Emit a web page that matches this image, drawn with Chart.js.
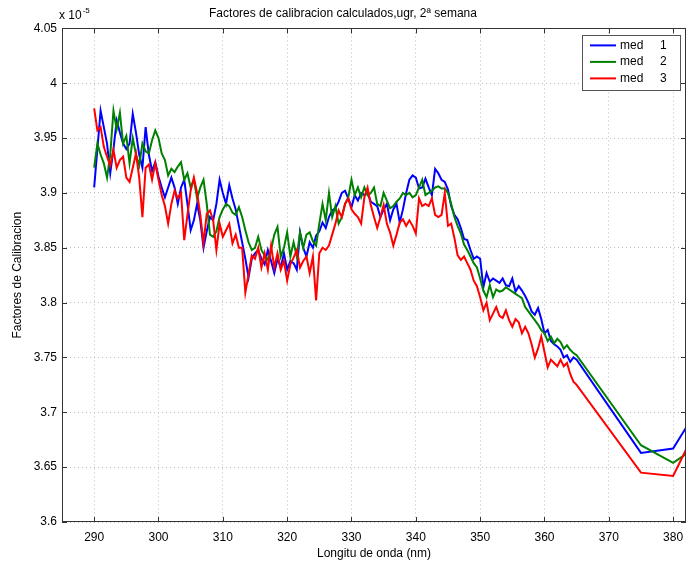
<!DOCTYPE html>
<html><head><meta charset="utf-8">
<script src="https://cdn.jsdelivr.net/npm/chart.js@4/dist/chart.umd.min.js"></script>
<style>html,body{margin:0;padding:0;background:#fff;} canvas{display:block;}</style>
</head><body>
<canvas id="c" width="687" height="567"></canvas>
<script>
const wavelengths = [
290,290.5,291,291.5,292,292.5,293,293.5,294,294.5,
295,295.5,296,296.5,297,297.5,298,298.5,299,299.5,
300,300.5,301,301.5,302,302.5,303,303.5,304,304.5,
305,305.5,306,306.5,307,307.5,308,308.5,309,309.5,
310,310.5,311,311.5,312,312.5,313,313.5,314,314.5,
315,315.5,316,316.5,317,317.5,318,318.5,319,319.5,
320,320.5,321,321.5,322,322.5,323,323.5,324,324.5,
325,325.5,326,326.5,327,327.5,328,328.5,329,329.5,
330,330.5,331,331.5,332,332.5,333,333.5,334,334.5,
335,335.5,336,336.5,337,337.5,338,338.5,339,339.5,
340,340.5,341,341.5,342,342.5,343,343.5,344,344.5,
345,345.5,346,346.5,347,347.5,348,348.5,349,349.5,
350,350.5,351,351.5,352,352.5,353,353.5,354,354.5,
355,355.5,356,356.5,357,357.5,358,358.5,359,359.5,
360,360.5,361,361.5,362,362.5,363,363.5,364,364.5,
365,375,380,382];

const med1 = [
3.905,3.94,3.975,3.96,3.945,3.918,3.94,3.966,3.955,3.945,
3.94,3.945,3.972,3.955,3.935,3.923,3.96,3.935,3.92,3.928,
3.915,3.905,3.896,3.905,3.914,3.905,3.89,3.905,3.912,3.89,
3.866,3.875,3.89,3.875,3.85,3.865,3.878,3.875,3.89,3.912,
3.9,3.89,3.907,3.895,3.885,3.87,3.855,3.84,3.823,3.84,
3.845,3.848,3.84,3.835,3.848,3.838,3.827,3.84,3.832,3.845,
3.83,3.838,3.836,3.83,3.864,3.85,3.842,3.855,3.85,3.861,
3.865,3.873,3.868,3.878,3.884,3.886,3.892,3.9,3.902,3.895,
3.887,3.898,3.893,3.9,3.898,3.9,3.892,3.89,3.888,3.878,
3.885,3.89,3.875,3.885,3.89,3.873,3.885,3.9,3.912,3.916,
3.914,3.904,3.905,3.913,3.905,3.898,3.922,3.918,3.912,3.91,
3.903,3.888,3.88,3.876,3.868,3.858,3.857,3.848,3.84,3.842,
3.84,3.814,3.827,3.819,3.822,3.82,3.818,3.822,3.816,3.815,
3.822,3.81,3.815,3.811,3.806,3.8,3.792,3.789,3.795,3.785,
3.772,3.775,3.765,3.762,3.76,3.757,3.75,3.752,3.746,3.75,
3.748,3.663,3.667,3.686];

const med2 = [
3.923,3.945,3.935,3.927,3.914,3.935,3.975,3.958,3.973,3.945,
3.952,3.927,3.95,3.935,3.925,3.945,3.938,3.936,3.948,3.957,
3.95,3.936,3.93,3.916,3.922,3.919,3.924,3.928,3.912,3.918,
3.905,3.912,3.895,3.905,3.912,3.89,3.862,3.86,3.865,3.878,
3.885,3.89,3.888,3.882,3.88,3.887,3.878,3.866,3.855,3.848,
3.85,3.86,3.848,3.843,3.839,3.848,3.862,3.869,3.842,3.85,
3.864,3.842,3.855,3.842,3.864,3.85,3.862,3.864,3.856,3.852,
3.872,3.89,3.875,3.9,3.878,3.888,3.872,3.878,3.89,3.896,
3.912,3.898,3.905,3.896,3.905,3.898,3.9,3.905,3.89,3.888,
3.9,3.893,3.886,3.888,3.892,3.895,3.9,3.898,3.9,3.896,
3.898,3.905,3.912,3.898,3.9,3.902,3.905,3.906,3.904,3.904,
3.9,3.89,3.878,3.87,3.863,3.853,3.848,3.842,3.836,3.832,
3.822,3.811,3.805,3.816,3.805,3.812,3.81,3.811,3.814,3.812,
3.81,3.808,3.806,3.804,3.796,3.792,3.788,3.784,3.78,3.775,
3.772,3.765,3.769,3.763,3.767,3.764,3.758,3.761,3.757,3.754,
3.752,3.67,3.654,3.662];

const med3 = [
3.977,3.957,3.96,3.942,3.933,3.925,3.939,3.923,3.93,3.933,
3.914,3.91,3.923,3.936,3.914,3.878,3.923,3.926,3.912,3.927,
3.912,3.898,3.888,3.872,3.89,3.902,3.895,3.9,3.857,3.88,
3.902,3.914,3.9,3.88,3.854,3.881,3.884,3.875,3.848,3.872,
3.86,3.866,3.872,3.854,3.862,3.85,3.85,3.809,3.826,3.843,
3.84,3.85,3.832,3.845,3.83,3.852,3.832,3.845,3.83,3.838,
3.82,3.835,3.841,3.848,3.832,3.838,3.842,3.827,3.842,3.802,
3.845,3.85,3.848,3.852,3.862,3.872,3.884,3.878,3.89,3.895,
3.885,3.881,3.878,3.872,3.896,3.905,3.889,3.878,3.868,3.878,
3.889,3.872,3.864,3.852,3.862,3.873,3.876,3.87,3.875,3.87,
3.863,3.895,3.888,3.89,3.888,3.895,3.88,3.878,3.88,3.9,
3.87,3.872,3.859,3.843,3.839,3.842,3.836,3.83,3.82,3.815,
3.805,3.793,3.8,3.784,3.79,3.796,3.788,3.786,3.793,3.784,
3.778,3.785,3.782,3.772,3.778,3.772,3.762,3.75,3.758,3.769,
3.755,3.741,3.748,3.745,3.742,3.748,3.742,3.745,3.735,3.728,
3.725,3.645,3.642,3.666];

const seriesLabels = ['med  1', 'med  2', 'med  3'];
const seriesColors = ['#0000ff', '#008000', '#ff0000'];
const xTicks = [290, 300, 310, 320, 330, 340, 350, 360, 370, 380];
const yTicks = [3.6, 3.65, 3.7, 3.75, 3.8, 3.85, 3.9, 3.95, 4, 4.05];
const titleText = 'Factores de calibracion calculados,ugr, 2ª semana';
const xTitle = 'Longitu de onda (nm)';
const yTitle = 'Factores de Calibracion';
const exponentBase = 'x 10';
const exponentPower = '-5';

const FONT = '"Liberation Sans", Arial, Helvetica, sans-serif';

function pts(ys) { return ys.map((y, i) => ({ x: wavelengths[i], y: y })); }
const allSeries = [med1, med2, med3];

const datasets = allSeries.map((s, i) => ({
  label: seriesLabels[i],
  data: pts(s),
  borderColor: seriesColors[i],
  backgroundColor: seriesColors[i],
  borderWidth: 2,
  pointRadius: 0,
  tension: 0,
  fill: false,
  order: allSeries.length - i
}));

const matlabAxes = {
  id: 'matlabAxes',
  afterDraw(chart) {
    const ctx = chart.ctx;
    const a = chart.chartArea;
    const xs = chart.scales.x, ys = chart.scales.y;
    ctx.save();
    ctx.strokeStyle = '#333';
    ctx.lineWidth = 1;
    ctx.setLineDash([]);
    ctx.strokeRect(Math.round(a.left) + 0.5, Math.round(a.top) + 0.5,
                   Math.round(a.right - a.left) - 1, Math.round(a.bottom - a.top) - 1);
    const tl = 5;
    ctx.beginPath();
    xTicks.forEach(t => {
      const px = Math.round(xs.getPixelForValue(t)) + 0.5;
      ctx.moveTo(px, a.bottom); ctx.lineTo(px, a.bottom - tl);
      ctx.moveTo(px, a.top); ctx.lineTo(px, a.top + tl);
    });
    yTicks.forEach(t => {
      const py = Math.round(ys.getPixelForValue(t)) + 0.5;
      ctx.moveTo(a.left, py); ctx.lineTo(a.left + tl, py);
      ctx.moveTo(a.right, py); ctx.lineTo(a.right - tl, py);
    });
    ctx.stroke();
    ctx.fillStyle = '#000';
    ctx.font = '12px ' + FONT;
    ctx.textBaseline = 'alphabetic';
    ctx.textAlign = 'left';
    const bx = a.left - 3, by = a.top - 9;
    ctx.fillText(exponentBase, bx, by);
    const w = ctx.measureText(exponentBase).width;
    ctx.font = '8px ' + FONT;
    ctx.fillText(exponentPower, bx + w + 1, by - 6);
    const lw = 98, lh = 55;
    const lx = a.right - 6 - lw, ly = a.top + 7;
    ctx.fillStyle = '#fff';
    ctx.fillRect(lx, ly, lw, lh);
    ctx.strokeStyle = '#555';
    ctx.strokeRect(Math.round(lx) + 0.5, Math.round(ly) + 0.5, lw, lh);
    ctx.font = '12px ' + FONT;
    ctx.textBaseline = 'middle';
    seriesLabels.forEach((lab, i) => {
      const cy = ly + 10 + i * 16.5;
      ctx.strokeStyle = seriesColors[i];
      ctx.lineWidth = 2;
      ctx.beginPath();
      ctx.moveTo(lx + 8, cy); ctx.lineTo(lx + 34, cy);
      ctx.stroke();
      const parts = lab.split(/\s+/);
      ctx.fillStyle = '#000';
      ctx.textAlign = 'left';
      ctx.fillText(parts[0], lx + 38, cy);
      ctx.fillText(parts[1], lx + 78, cy);
    });
    ctx.restore();
  }
};

new Chart(document.getElementById('c'), {
  type: 'line',
  data: { datasets },
  plugins: [matlabAxes],
  options: {
    responsive: false,
    animation: false,
    devicePixelRatio: 1,
    layout: { padding: { left: 0, right: 1, top: 0, bottom: 0 } },
    plugins: {
      legend: { display: false },
      tooltip: { enabled: false },
      title: {
        display: true, text: titleText, color: '#000',
        font: { family: FONT, size: 12, weight: 'normal' },
        padding: { top: 6, bottom: 8 }
      }
    },
    scales: {
      x: {
        type: 'linear', position: 'bottom', min: 285, max: 382,
        afterBuildTicks: s => { s.ticks = xTicks.map(v => ({ value: v })); },
        afterFit: s => { s.height = 45; s.paddingLeft = 0; s.paddingRight = 0; },
        grid: { color: '#bdbdbd', lineWidth: 1, drawTicks: false },
        border: { display: false, dash: [1, 3] },
        ticks: { color: '#000', font: { family: FONT, size: 12 }, padding: 8, maxRotation: 0, autoSkip: false },
        title: { display: true, text: xTitle, color: '#000', font: { family: FONT, size: 12 }, padding: { top: 2, bottom: 6 } }
      },
      y: {
        type: 'linear', min: 3.6, max: 4.05,
        afterBuildTicks: s => { s.ticks = yTicks.map(v => ({ value: v })); },
        afterFit: s => { s.width = 62; s.paddingTop = 0; s.paddingBottom = 0; },
        grid: { color: '#bdbdbd', lineWidth: 1, drawTicks: false },
        border: { display: false, dash: [1, 3] },
        ticks: { color: '#000', font: { family: FONT, size: 12 }, padding: 5,
                 callback: v => String(+(+v).toFixed(2)) },
        title: { display: true, text: yTitle, color: '#000', font: { family: FONT, size: 12 }, padding: { top: 10, bottom: 0 } }
      }
    }
  }
});
</script>
</body></html>
